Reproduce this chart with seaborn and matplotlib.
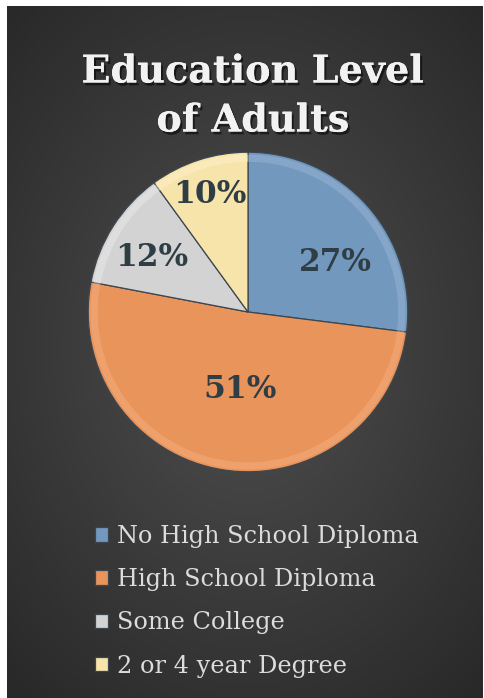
import numpy as np
import seaborn as sns
import matplotlib
matplotlib.use('Agg')
import matplotlib.pyplot as plt
import matplotlib.patheffects as pe

categories = ['No High School Diploma', 'High School Diploma', 'Some College', '2 or 4 year Degree']
shares = [27, 51, 12, 10]
pct_labels = ['27%', '51%', '12%', '10%']

sns.set_theme(style='dark')
plt.rcParams['font.family'] = ['DejaVu Serif']

W, H = 484, 698
fig = plt.figure(figsize=(W / 100, H / 100), dpi=100)
fig.patch.set_facecolor('white')

# dark radial-gradient card behind everything
bg = fig.add_axes([7 / W, 0, 476 / W, 692 / H])
yy, xx = np.mgrid[0:692, 0:476]
d = np.sqrt(((xx - 240) / 330.0) ** 2 + ((yy - 340) / 430.0) ** 2)
shade = np.clip(0.31 - 0.14 * d, 0.15, 0.31)
bg.imshow(np.dstack([shade] * 3), aspect='auto', interpolation='bilinear')
bg.set_axis_off()

palette = sns.color_palette(['#7398bd', '#e8945a', '#d3d3d3', '#f7e4ab'])
rim = sns.color_palette(['#9cb9d6', '#f6b383', '#ececec', '#fff3cc'])

cx, cy, r = 248, 312, 163
ax = fig.add_axes([(cx - r) / W, (H - cy - r) / H, 2 * r / W, 2 * r / H])
wedges, _ = ax.pie(shares, colors=palette, startangle=90, counterclock=False,
                   radius=1.0,
                   wedgeprops=dict(edgecolor='#3d4650', linewidth=0.9))
# soft bevel along the outer rim
ax.pie(shares, colors=rim, startangle=90, counterclock=False, radius=0.985,
       wedgeprops=dict(width=0.045, edgecolor='none', alpha=0.45))

# label placement (radius fraction, angular nudge in degrees)
label_dist = [0.63, 0.49, 0.695, 0.776]
label_shift = [-12, 3, 3, 0]
for w, txt, dist, sh in zip(wedges, pct_labels, label_dist, label_shift):
    ang = np.deg2rad((w.theta1 + w.theta2) / 2 + sh)
    ax.text(dist * np.cos(ang), dist * np.sin(ang), txt, ha='center', va='center',
            fontsize=22.5, fontweight='bold', color='#2f3d45')
ax.set_xlim(-1.02, 1.02)
ax.set_ylim(-1.02, 1.02)
ax.set_axis_off()

shadow = [pe.withSimplePatchShadow(offset=(1.5, -2), shadow_rgbFace='black', alpha=0.55), pe.Normal()]
fig.text(253 / W, 1 - 72 / H, 'Education Level', ha='center', va='center',
         fontsize=27.5, fontweight='bold', color='#f2f2f2', path_effects=shadow)
fig.text(253 / W, 1 - 121 / H, 'of Adults', ha='center', va='center',
         fontsize=27.5, fontweight='bold', color='#f2f2f2', path_effects=shadow)

leg = fig.legend(wedges, categories, loc='upper left', bbox_to_anchor=(95 / W, 1 - 525 / H),
                 frameon=False, fontsize=17.3, labelcolor='#dcdcdc',
                 handlelength=0.55, handleheight=0.55, handletextpad=0.35,
                 labelspacing=0.84, borderpad=0, borderaxespad=0)

fig.savefig('out.png', dpi=100, facecolor=fig.get_facecolor())
